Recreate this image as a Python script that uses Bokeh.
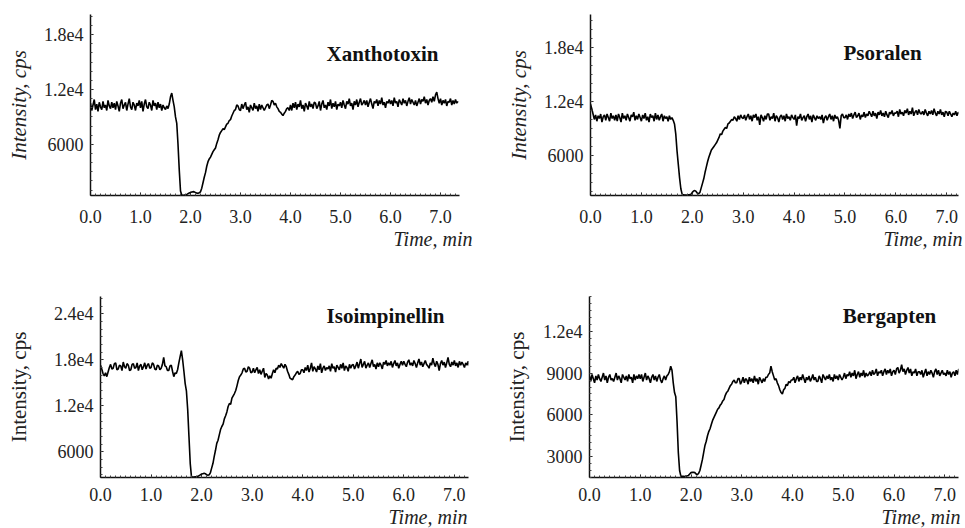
from bokeh.plotting import figure
from bokeh.layouts import column, row
from bokeh.models import Label, FixedTicker, ColumnDataSource, Range1d, Title
from bokeh.embed import file_html
from bokeh.resources import INLINE

# ---------------- data ----------------
# sampling grid: 0.000 ... 7.350 min, every 0.025 min
time_min = [round(0.025 * i, 3) for i in range(295)]

xanthotoxin = [
    10500, 9700, 10300, 10900, 9800, 10400, 9600, 10600, 10100, 9800, 10700, 10000, 10300, 9700, 10800, 10200, 9900, 10600, 10000, 10500,
    9800, 10700, 10200, 9600, 10500, 10900, 9900, 10300, 10600, 9700, 10400, 11000, 10100, 9800, 10600, 10300, 9700, 10500, 10200, 10800,
    10000, 10700, 9600, 10400, 10900, 10100, 9900, 10600, 10300, 9700, 10800, 10200, 10500, 9800, 10600, 10000, 10400, 9700, 10300, 10000,
    9800, 10200, 9900, 10400, 11200, 11600, 10800, 10100, 9000, 8300, 6000, 3200, 900, 450, 430, 450, 480, 520, 600, 680,
    740, 780, 820, 800, 720, 660, 640, 700, 800, 1200, 1800, 2400, 2900, 3600, 4100, 4400, 4600, 4900, 5200, 5400,
    5600, 6100, 6500, 7000, 7300, 7500, 7700, 7600, 7900, 8200, 8300, 8600, 8700, 9100, 9400, 9700, 9800, 10300, 10200, 9800,
    9700, 10400, 9900, 10300, 10600, 9800, 10100, 9500, 10300, 10000, 9700, 10500, 9900, 10200, 9600, 10400, 9800, 10300, 10000, 9700,
    10000, 10300, 10400, 9900, 10300, 10800, 10700, 10300, 10500, 10100, 9900, 9600, 9500, 9300, 9150, 9400, 9600, 9900, 10000, 9700,
    10300, 9700, 10500, 10000, 10600, 9800, 10400, 10100, 10800, 9900, 10300, 9600, 10500, 10200, 9800, 10700, 10100, 10400, 9900, 10600,
    10500, 9900, 10200, 10700, 9700, 10400, 10800, 10000, 10300, 9800, 10600, 10200, 10900, 9900, 10500, 10100, 10700, 9800, 10400, 10200,
    10600, 10000, 10800, 10300, 9900, 10700, 10400, 11000, 10200, 10500, 9800, 10700, 10300, 10900, 10100, 10600, 11000, 10300, 10500, 10800,
    10300, 10800, 10100, 10600, 11000, 10400, 9900, 10700, 10500, 10900, 10200, 10800, 10400, 11100, 10300, 10600, 10000, 10700, 10500, 10900,
    10400, 10800, 10200, 11100, 10500, 10700, 10100, 10900, 10600, 10300, 11000, 10500, 10800, 10200, 10700, 11100, 10400, 10900, 10600, 10300,
    10800, 10200, 10600, 11000, 10400, 10900, 10700, 11200, 10500, 10900, 10300, 10800, 11000, 10600, 11200, 10700, 11400, 11700, 11000, 10500,
    11000, 10300, 10800, 10500, 10900, 10200, 10700, 10600, 11000, 10300, 10800, 10400, 10900, 10500, 10700,
]

psoralen = [
    11700, 11200, 10600, 10000, 10500, 9800, 10400, 10100, 10600, 9700, 10300, 10500, 9900, 10600, 10200, 9800, 10700, 10100, 10400, 9900,
    10500, 9800, 10600, 10200, 9700, 10700, 10100, 10400, 9900, 10600, 10200, 9800, 10500, 10300, 10800, 9900, 10400, 10000, 10600, 10200,
    9800, 10500, 10100, 10700, 9900, 10300, 9700, 10600, 10200, 10400, 9800, 10700, 10000, 10500, 9900, 10300, 10600, 9800, 10400, 10100,
    10300, 9800, 10400, 10000, 10200, 9900, 9500, 8400, 6500, 5000, 3500, 2300, 1700, 1620, 1600, 1600, 1580, 1620, 1650, 1700,
    1900, 2050, 2100, 2000, 1800, 1750, 1900, 2400, 2900, 3400, 4100, 4700, 5300, 5800, 6200, 6600, 6800, 7000, 7200, 7400,
    7700, 8000, 8400, 8300, 8700, 8900, 9100, 9000, 9500, 9600, 9800, 10000, 9900, 10300, 10100, 9800, 10400, 10000, 10500, 10200,
    10100, 10500, 9900, 10300, 10600, 10000, 10400, 9800, 10500, 10200, 10600, 9900, 10300, 9400, 10500, 10200, 9800, 10400, 10000, 10600,
    10600, 9900, 10300, 10100, 10700, 9800, 10400, 10200, 9700, 10300, 10500, 10000, 10400, 9800, 10600, 10100, 10300, 9900, 10500, 10200,
    10000, 10500, 9300, 10300, 10100, 10600, 9900, 10200, 10400, 9800, 10300, 10600, 10000, 10400, 9700, 10500, 10200, 9900, 10400, 10100,
    10300, 10000, 10500, 9600, 10200, 10400, 9900, 10300, 10600, 10000, 10400, 9800, 10500, 10100, 10300, 9900, 9000, 10400, 10600, 10200,
    10200, 10500, 10000, 10600, 10300, 10700, 10100, 10500, 10800, 10200, 10400, 10700, 10000, 10500, 10300, 10800, 10200, 10600, 10400, 10900,
    10600, 10300, 10900, 10400, 10700, 10100, 10800, 10500, 11000, 10400, 10700, 10300, 10900, 10500, 10200, 10800, 10600, 11000, 10400, 10700,
    10700, 10900, 10300, 11100, 10600, 10800, 10400, 11000, 10700, 11200, 10500, 10900, 10600, 11300, 10400, 10800, 11000, 10500, 11100, 10700,
    10600, 10900, 10500, 11100, 10700, 10400, 10900, 10600, 11000, 10500, 11200, 10700, 10400, 10900, 10600, 11100, 10500, 10800, 10300, 10900,
    10800, 10400, 10900, 10600, 10300, 10700, 10500, 10900, 10400, 10800, 10600, 10300, 10700, 10500, 10600,
]

isoimpinellin = [
    17300, 16800, 16200, 15900, 16300, 15800, 16400, 17000, 17400, 16800, 16900, 17500, 17600, 16700, 16800, 17300, 17200, 16600, 17700, 17100,
    16900, 17500, 17300, 16600, 16700, 17400, 17500, 16900, 17000, 17600, 16600, 17200, 17400, 16700, 17100, 17600, 16800, 17300, 17500, 16900,
    17000, 17600, 17400, 16800, 16700, 17300, 17200, 16700, 16900, 17400, 18300, 17200, 17100, 16600, 16600, 17200, 17300, 16500, 15800, 16300,
    16200, 16700, 17600, 18400, 19200, 18000, 16500, 14900, 13900, 11500, 8000, 4500, 2700, 2700, 2700, 2750, 2750, 2800, 2900, 3000,
    3100, 3150, 3200, 3150, 3000, 2950, 3000, 3300, 3900, 4500, 5400, 6200, 7100, 7500, 8200, 8900, 9300, 9600, 10300, 10700,
    11200, 11900, 12300, 12200, 13000, 13300, 13600, 14000, 14600, 15300, 15800, 16000, 16300, 16800, 16900, 16400, 16500, 17100, 16900, 16300,
    16400, 16900, 16300, 16700, 17000, 16200, 16700, 16100, 16500, 16900, 15700, 16200, 16000, 15500, 15900, 15600, 16200, 16700, 16300, 16900,
    16800, 17300, 17000, 17500, 17200, 16900, 17400, 17100, 16500, 16100, 15600, 15500, 15400, 15800, 16000, 16300, 16500, 16100, 16200, 16700,
    16700, 16300, 17000, 16600, 17300, 16400, 16900, 17600, 16500, 17100, 16800, 16400, 17200, 16700, 17500, 16300, 16900, 17200, 16600, 17000,
    16800, 17200, 16500, 17500, 16900, 17100, 16400, 17300, 17000, 16700, 17400, 16900, 17600, 16600, 17200, 17000, 16500, 17400, 16900, 17300,
    17400, 16800, 17200, 17700, 16900, 17500, 18100, 17000, 17400, 17800, 16900, 17300, 17600, 17000, 17500, 18000, 17100, 17400, 16800, 17600,
    17100, 17600, 17300, 16800, 17700, 17400, 17900, 17200, 17600, 17300, 17800, 17000, 17500, 17900, 17200, 17600, 16900, 17400, 17800, 17300,
    17800, 17400, 17100, 17700, 18000, 17300, 17600, 17200, 17900, 17500, 17000, 17600, 18100, 17300, 17700, 17100, 17500, 17900, 17400, 17200,
    16900, 17600, 17300, 18200, 17500, 17100, 17800, 17400, 16600, 17500, 17900, 17300, 17700, 17000, 17600, 18300, 17400, 17100, 17700, 17300,
    17900, 17200, 17600, 17000, 17800, 17300, 17700, 17400, 17000, 17600, 17300, 17800, 17200, 17500, 17400,
]

bergapten = [
    8800, 8400, 8900, 8600, 8300, 8800, 8500, 8900, 8600, 8400, 8700, 9000, 8500, 8800, 8300, 8700, 8900, 8500, 8600, 8400,
    8700, 9000, 8500, 8800, 8600, 8300, 8900, 8700, 8500, 8800, 8400, 8900, 8600, 8700, 8300, 8900, 8500, 8800, 8600, 8900,
    8600, 8900, 8400, 8700, 9000, 8500, 8800, 8600, 8300, 8700, 8900, 8500, 8800, 8400, 8700, 8900, 8500, 8300, 8600, 8800,
    8500, 8800, 8900, 9100, 9500, 9200, 8300, 7600, 7300, 5500, 3300, 2000, 1600, 1580, 1580, 1570, 1600, 1620, 1650, 1750,
    1850, 1870, 1880, 1850, 1750, 1700, 1800, 2000, 2400, 2800, 3300, 3800, 4100, 4500, 4800, 5000, 5300, 5600, 5800, 6000,
    6200, 6400, 6500, 6700, 6800, 7000, 7100, 7400, 7600, 7700, 7900, 8100, 8200, 8400, 8500, 8300, 8300, 8600, 8600, 8200,
    8400, 8700, 8300, 8600, 8500, 8200, 8700, 8400, 8600, 8300, 8800, 8400, 8600, 8200, 8700, 8500, 8300, 8600, 8400, 8700,
    8700, 8900, 9000, 9500, 9100, 8800, 8500, 8600, 8300, 8100, 7800, 7600, 7500, 7800, 7900, 8200, 8100, 8400, 8300, 8500,
    8500, 8700, 8300, 8600, 8800, 8400, 8700, 8500, 8900, 8600, 8300, 8700, 8500, 8800, 8400, 8600, 8900, 8500, 8700, 8400,
    8400, 8800, 8600, 8300, 8900, 8700, 8500, 8800, 8600, 8900, 8500, 8700, 8400, 8900, 8600, 8800, 8500, 8900, 8700, 8500,
    8700, 9000, 8600, 8900, 8800, 9100, 8700, 9000, 8800, 9200, 8600, 8900, 9100, 8700, 9000, 8800, 9200, 8700, 9000, 8800,
    8900, 9100, 8800, 9200, 8900, 9000, 9300, 8800, 9100, 9000, 9200, 8800, 9100, 9300, 8900, 9200, 9000, 9300, 8800, 9100,
    9200, 8900, 9300, 9400, 9000, 9200, 9600, 9100, 9300, 8900, 9200, 9400, 9000, 9300, 8800, 9100, 9000, 9300, 8800, 9100,
    9100, 8900, 9200, 8700, 9000, 9300, 8800, 9100, 8900, 9200, 9000, 8700, 9100, 9300, 8900, 9200, 8800, 9000, 9200, 8900,
    9000, 8800, 9200, 8900, 9100, 8700, 9000, 9100, 8800, 9200, 8900, 9300, 9000, 8800, 9100,
]

compounds = ["Xanthotoxin", "Psoralen", "Isoimpinellin", "Bergapten"]

x_ticks = [0, 1, 2, 3, 4, 5, 6, 7]
x_tick_labels = ["0.0", "1.0", "2.0", "3.0", "4.0", "5.0", "6.0", "7.0"]

y_ticks_top = [6000, 12000, 18000]
y_labels_top = ["6000", "1.2e4", "1.8e4"]
y_ticks_iso = [6000, 12000, 18000, 24000]
y_labels_iso = ["6000", "1.2e4", "1.8e4", "2.4e4"]
y_ticks_berg = [3000, 6000, 9000, 12000]
y_labels_berg = ["3000", "6000", "9000", "1.2e4"]

FONT = "Liberation Serif"


def make_panel(values, name, width, height, mb_left, mb_right, mb_top, mb_bottom,
               x_end, y_start, y_end, yticks, ylabels, yminor, ylab_style,
               ylab_standoff, xlab_standoff, title_xy, time_offset):
    p = figure(width=width, height=height, output_backend="svg",
               toolbar_location=None,
               x_range=Range1d(0, x_end), y_range=Range1d(y_start, y_end),
               min_border_left=mb_left, min_border_right=mb_right,
               min_border_top=mb_top, min_border_bottom=mb_bottom)
    p.outline_line_color = None
    p.grid.visible = False
    p.background_fill_color = "white"
    p.border_fill_color = "white"

    n = min(len(time_min), len(values))
    src = ColumnDataSource(dict(t=time_min[:n], v=values[:n]))
    p.line("t", "v", source=src, line_color="#000000", line_width=1.6)

    # x axis
    xa = p.xaxis[0]
    xa.ticker = FixedTicker(ticks=x_ticks,
                            minor_ticks=[round(0.1 * i, 1) for i in range(0, 75)])
    xa.major_label_overrides = {t: l for t, l in zip(x_ticks, x_tick_labels)}
    # y axis
    ya = p.yaxis[0]
    ya.ticker = FixedTicker(ticks=yticks, minor_ticks=yminor)
    ya.major_label_overrides = {t: l for t, l in zip(yticks, ylabels)}
    ya.axis_label = "Intensity, cps"
    ya.axis_label_text_font = FONT
    ya.axis_label_text_font_size = "21px"
    ya.axis_label_text_font_style = ylab_style
    ya.axis_label_text_color = "#222222"
    ya.axis_label_standoff = ylab_standoff

    for ax in (xa, ya):
        ax.axis_line_color = "#111111"
        ax.axis_line_width = 1.5
        ax.major_tick_in = 3
        ax.major_tick_out = 0
        ax.minor_tick_in = 2
        ax.minor_tick_out = 0
        ax.major_tick_line_color = "#111111"
        ax.minor_tick_line_color = "#444444"
        ax.major_label_text_font = FONT
        ax.major_label_text_font_size = "18px"
        ax.major_label_text_color = "#222222"
    ya.major_label_standoff = 7
    xa.major_label_standoff = xlab_standoff

    p.add_layout(Label(x=title_xy[0], y=title_xy[1], x_units="screen",
                       y_units="screen", text=name, text_font=FONT,
                       text_font_size="21px", text_font_style="bold",
                       text_color="#111111", text_align="center",
                       text_baseline="middle"))
    p.add_layout(Title(text="Time, min", align="right", offset=time_offset,
                       standoff=0, text_font=FONT, text_font_size="20px",
                       text_font_style="italic", text_color="#222222"),
                 "below")
    return p


minor_1000 = list(range(1000, 27000, 1000))
minor_500 = list(range(1500, 15000, 500))

p1 = make_panel(xanthotoxin, compounds[0], 482, 262, 90, 23, 14, 67,
                7.38, 400, 20200, y_ticks_top, y_labels_top, minor_1000,
                "italic", 10, 14, (292, 142), -13)
p2 = make_panel(psoralen, compounds[1], 483, 262, 108, 7, 14, 67,
                7.23, 1550, 21650, y_ticks_top, y_labels_top, minor_1000,
                "italic", 10, 14, (292, 143), -4)
p3 = make_panel(isoimpinellin, compounds[2], 482, 266, 100, 14, 34, 51,
                7.28, 2650, 26250, y_ticks_iso, y_labels_iso, minor_1000,
                "normal", 20, 10, (285, 162), 1)
p4 = make_panel(bergapten, compounds[3], 483, 266, 107, 7, 34, 51,
                7.27, 1500, 14500, y_ticks_berg, y_labels_berg, minor_500,
                "normal", 11, 10, (300, 162), -2)

layout = column(row(p1, p2), row(p3, p4))
open("out.html", "w").write(file_html(layout, INLINE))
